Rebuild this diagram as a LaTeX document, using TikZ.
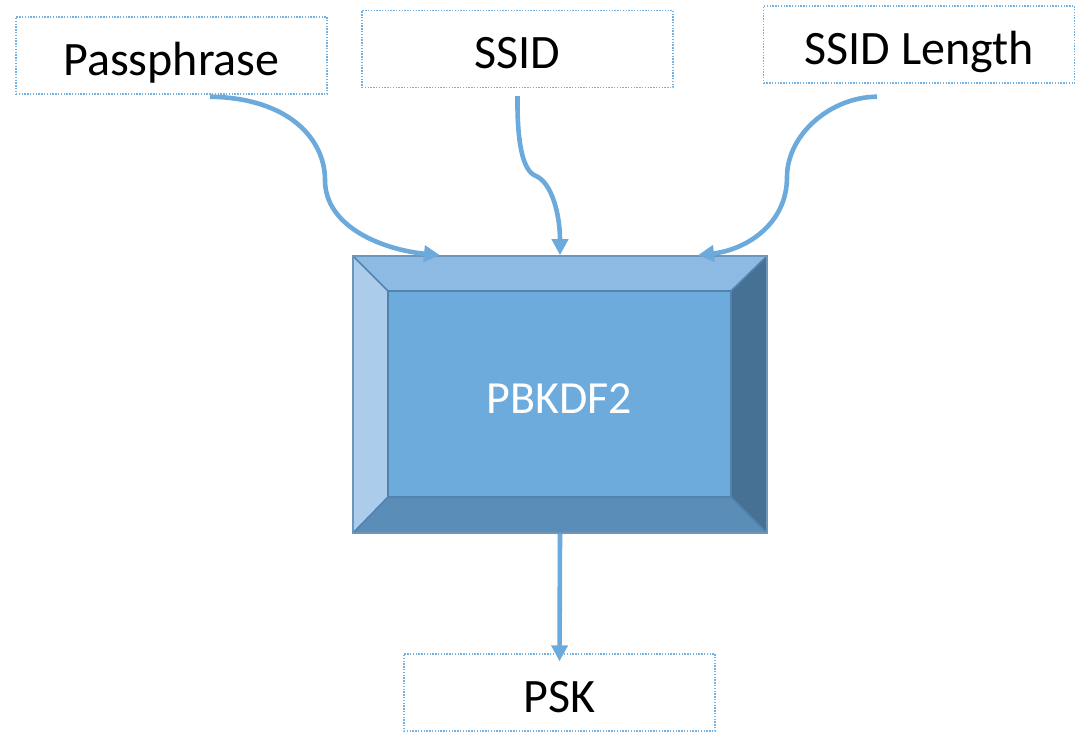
\documentclass[tikz,border=0pt]{standalone}
\usepackage{fontspec}
\setmainfont{Carlito}
\usetikzlibrary{arrows.meta}
\definecolor{flow}{HTML}{6CAADC}
\definecolor{dotline}{HTML}{72B1E1}
\definecolor{face}{HTML}{6CABDC}
\definecolor{bevtop}{HTML}{8CBAE3}
\definecolor{bevleft}{HTML}{ABCDEB}
\definecolor{bevright}{HTML}{467194}
\definecolor{bevbot}{HTML}{5A8EB8}
\definecolor{edge}{HTML}{5283AE}
\tikzset{
  inbox/.style={draw=dotline, line width=1.4pt, dash pattern=on 1.4pt off 1.4pt,
    minimum width=311pt, minimum height=77pt, inner sep=0pt,
    text height=39pt, text depth=0pt,
    font=\fontsize{48}{57}\selectfont, text=black},
  flowarrow/.style={draw=flow, line width=4.6pt,
    -{Triangle[length=16pt,width=16pt]}},
  facet/.style={draw=edge, line width=1.6pt, line join=round}
}
\begin{document}
\begin{tikzpicture}[x=1pt,y=-1pt]
\useasboundingbox (0,0) rectangle (1081,731);

% input and output boxes
\node[inbox] (pass) at (171.5,55.5) {Passphrase};
\node[inbox] (ssid) at (517.5,49) {SSID};
\node[inbox] (slen) at (919,44.5) {SSID Length};
\node[inbox] (psk)  at (559.5,692.5) {PSK};

% bevelled key-derivation block
\coordinate (o1) at (353,256); \coordinate (o2) at (767,256);
\coordinate (o3) at (767,533); \coordinate (o4) at (353,533);
\coordinate (i1) at (388,291); \coordinate (i2) at (731,291);
\coordinate (i3) at (731,497); \coordinate (i4) at (388,497);
\fill[bevtop] (o1) -- (o2) -- (i2) -- (i1) -- cycle;
\fill[bevright] (o2) -- (o3) -- (i3) -- (i2) -- cycle;
\fill[bevbot] (o3) -- (o4) -- (i4) -- (i3) -- cycle;
\fill[bevleft] (o4) -- (o1) -- (i1) -- (i4) -- cycle;
\draw[facet] (o1) -- (i1) (o2) -- (i2) (o3) -- (i3) (o4) -- (i4);
\node[facet, fill=face, minimum width=343pt, minimum height=206pt, inner sep=0pt,
  text height=38pt, text depth=0pt,
  text=white, font=\fontsize{46}{55}\selectfont] (kdfface) at (559.5,394) {PBKDF2};
\node[draw=edge!85!white, line width=1.6pt, minimum width=414pt, minimum height=277pt,
  inner sep=0pt] (kdf) at (560,394.5) {};

% inputs feeding the block
\draw[flowarrow] ([xshift=38.5pt,yshift=-2pt]pass.south)
  .. controls (290,98) and (325,140) .. (325,180)
  .. controls (325,228) and (385,250) .. ([xshift=-120pt]kdf.north);
\draw[flowarrow] ([yshift=-8pt]ssid.south)
  .. controls (517,140) and (522,171) .. (536,176)
  .. controls (552,183) and (560,215) .. (kdf.north);
\draw[flowarrow] ([xshift=-42pt,yshift=-13pt]slen.south)
  .. controls (830,97) and (787,135) .. (787,177)
  .. controls (787,225) and (745,250) .. ([xshift=138pt]kdf.north);

% derived key
\draw[flowarrow] (kdf.south) -- ([yshift=-8pt]psk.north);
\end{tikzpicture}
\end{document}
